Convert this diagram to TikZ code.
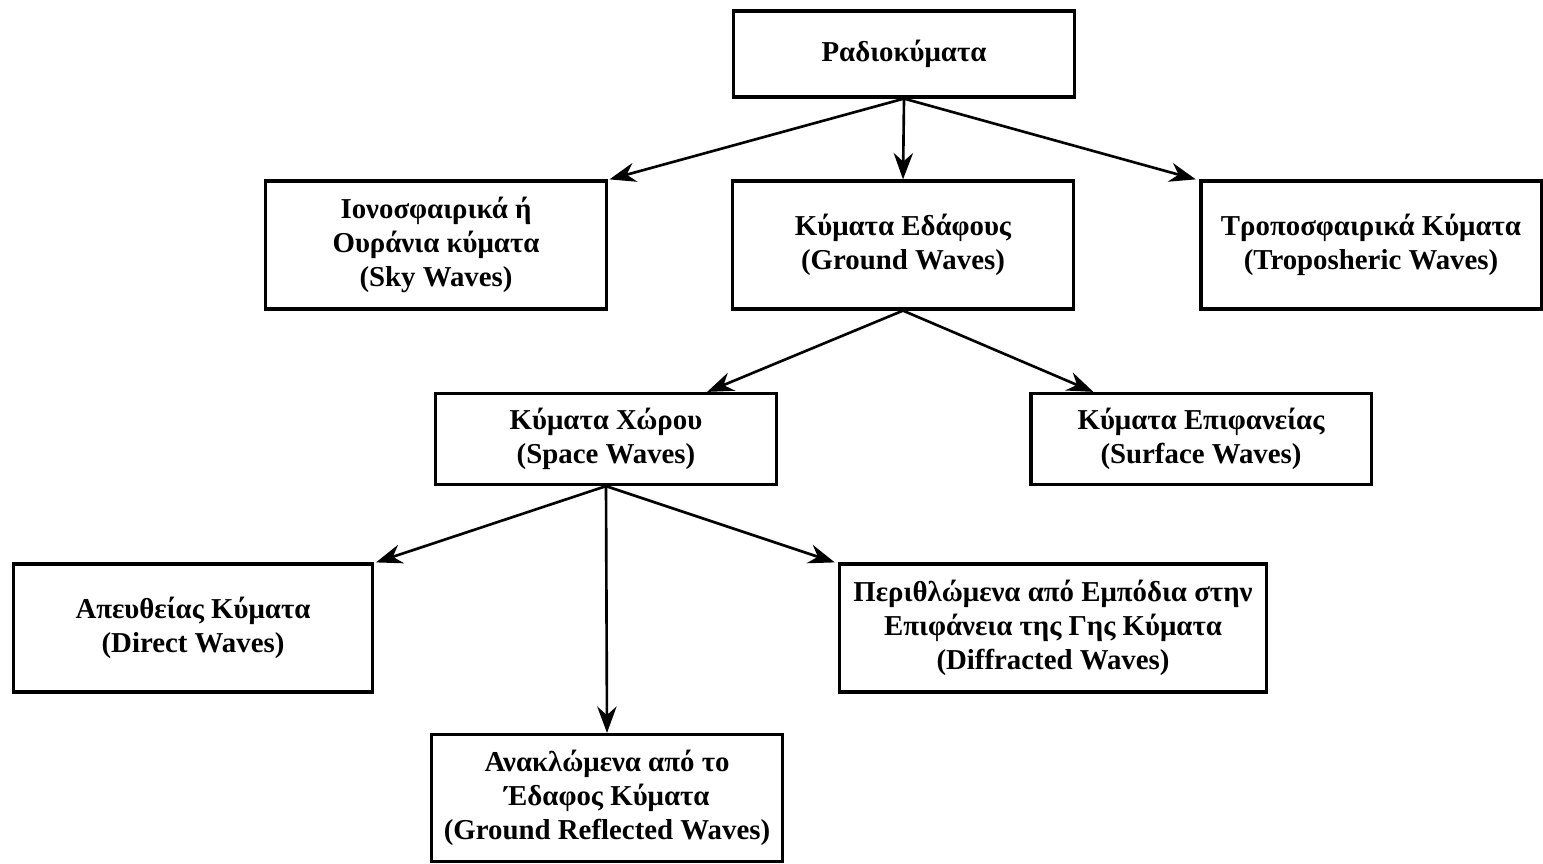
\documentclass[tikz,border=0pt]{standalone}
\usepackage{fontspec}
\setmainfont{Liberation Serif}
\usepackage{tikz}
\usetikzlibrary{calc, positioning, arrows.meta}

\begin{document}
\begin{tikzpicture}[x=0.01cm, y=-0.01cm, >={Stealth[length=7.5pt, width=5.5pt]},
    wavebox/.style={draw, line width=0.9pt, align=center, inner sep=0pt,
        minimum width=3.4cm, font=\bfseries\fontsize{8.2}{9.7}\selectfont},
    link/.style={->, line width=0.75pt}]
    \useasboundingbox (0,0) rectangle (1543,863);

    % level 0
    \node[wavebox, minimum height=0.86cm] (radio) at (904,54) {Ραδιοκύματα};

    % level 1
    \node[wavebox, minimum height=1.28cm] (sky) at (436,245)
        {Ιονοσφαιρικά ή\\Ουράνια κύματα\\(Sky Waves)};
    \node[wavebox, minimum height=1.28cm] (ground) at (903,245)
        {Κύματα Εδάφους\\(Ground Waves)};
    \node[wavebox, minimum height=1.28cm] (tropo) at (1371,245)
        {Τροποσφαιρικά Κύματα\\(Troposheric Waves)};

    % level 2
    \node[wavebox, minimum height=0.91cm] (space) at (606,439)
        {Κύματα Χώρου\\(Space Waves)};
    \node[wavebox, minimum height=0.91cm] (surface) at (1201,439)
        {Κύματα Επιφανείας\\(Surface Waves)};

    % level 3
    \node[wavebox, minimum width=3.59cm, minimum height=1.28cm] (direct) at (193,628)
        {Απευθείας Κύματα\\(Direct Waves)};
    \node[wavebox, minimum width=4.26cm, minimum height=1.28cm] (diffracted) at (1053,628)
        {Περιθλώμενα από Εμπόδια στην\\Επιφάνεια της Γης Κύματα\\(Diffracted Waves)};
    \node[wavebox, minimum width=3.5cm, minimum height=1.27cm] (reflected) at (607,798)
        {Ανακλώμενα από το\\Έδαφος Κύματα\\(Ground Reflected Waves)};

    % connectors
    \draw[link] (radio.south) -- ([xshift=0.5pt]sky.north east);
    \draw[link] (radio.south) -- (ground.north);
    \draw[link] (radio.south) -- ([xshift=-1pt]tropo.north west);
    \draw[link] (ground.south) -- ([xshift=1.01cm]space.north);
    \draw[link] (ground.south) -- ([xshift=0.64cm]surface.north west);
    \draw[link] (space.south) -- ([xshift=0.5pt]direct.north east);
    \draw[link] (space.south) -- (reflected.north);
    \draw[link] (space.south) -- ([xshift=-1pt]diffracted.north west);
\end{tikzpicture}
\end{document}
